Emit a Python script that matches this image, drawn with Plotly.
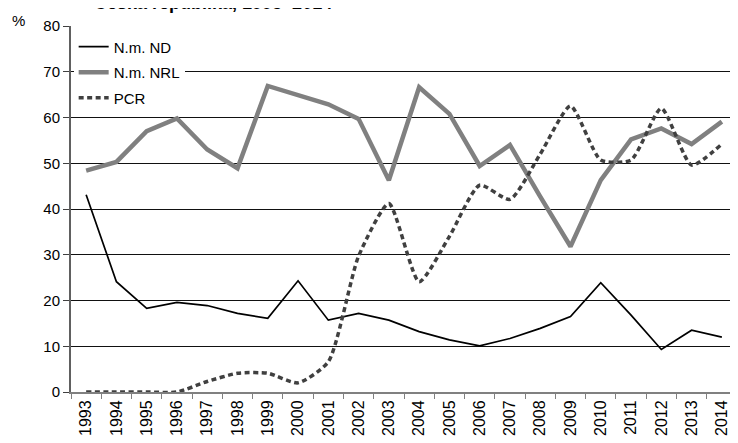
import plotly.graph_objects as go

years = [str(y) for y in range(1993, 2015)]
nm_nd = [43.1, 24.1, 18.3, 19.6, 18.9, 17.2, 16.1, 24.3, 15.7, 17.2, 15.7,
         13.2, 11.4, 10.1, 11.7, 13.9, 16.5, 23.9, 16.8, 9.3, 13.5, 12.0]
nm_nrl = [48.4, 50.3, 57.0, 59.8, 53.0, 48.9, 66.9, 64.9, 62.9, 59.7, 46.3,
          66.6, 60.8, 49.4, 54.0, 42.7, 31.8, 46.3, 55.2, 57.6, 54.2, 59.1]
pcr = [0.0, 0.0, 0.0, 0.0, 2.3, 4.1, 4.1, 2.0, 6.6, 29.7, 41.2,
       24.1, 34.0, 45.2, 42.1, 52.0, 62.5, 50.7, 50.7, 62.0, 49.6, 54.2]
y_ticks = [0, 10, 20, 30, 40, 50, 60, 70, 80]
title_text = "Česká republika, 1993–2014"

fig = go.Figure()
fig.add_trace(go.Scatter(x=years, y=nm_nd, name="N.m. ND", mode="lines",
                         line=dict(color="#000000", width=1.7), legendgroup="a"))
fig.add_trace(go.Scatter(x=years, y=nm_nrl, name="N.m. NRL", mode="lines",
                         line=dict(color="#808080", width=4.5), legendgroup="b"))
fig.add_trace(go.Scatter(x=years, y=pcr, name="PCR", mode="lines",
                         line=dict(color="#404040", width=3.5, dash="5px,3.5px",
                                   shape="spline", smoothing=0.6), legendgroup="c"))

fig.update_layout(
    width=738, height=443,
    margin=dict(l=63, r=9, t=18, b=59),
    paper_bgcolor="white", plot_bgcolor="white",
    font=dict(family="Liberation Sans, Arial", size=15, color="#000000"),
    showlegend=True,
    legend=dict(x=0.004, y=0.988, xanchor="left", yanchor="top",
                bgcolor="white", font=dict(size=15), tracegroupgap=3,
                traceorder="grouped", itemwidth=30),
    xaxis=dict(type="category", range=[-0.5, 21.5], tickangle=-90,
               showline=True, linecolor="#808080", linewidth=2,
               ticks="outside", tickson="boundaries", ticklen=5,
               tickcolor="#808080", tickwidth=1, showgrid=False,
               tickfont=dict(size=16), automargin=False),
    yaxis=dict(range=[0, 80], tickvals=y_ticks, showgrid=True,
               gridcolor="#111111", gridwidth=1, showline=True,
               linecolor="#606060", linewidth=2, ticks="outside", ticklen=6,
               tickcolor="#404040", zeroline=False, tickfont=dict(size=15),
               automargin=False),
)
fig.add_annotation(text="%", xref="paper", yref="paper", x=-0.079, y=1.014,
                   xanchor="center", yanchor="middle", showarrow=False,
                   font=dict(size=15))
fig.add_annotation(text="<b>" + title_text + "</b>", xref="paper", yref="paper",
                   x=0.213, y=1.03, xanchor="center", yanchor="bottom",
                   showarrow=False, font=dict(size=18))
fig.write_html("out.html")
